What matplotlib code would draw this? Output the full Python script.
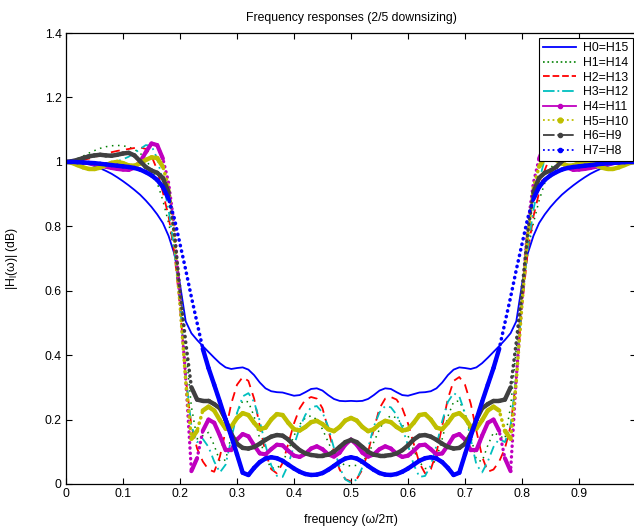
import numpy as np
import matplotlib
matplotlib.use("Agg")
import matplotlib.pyplot as plt
from matplotlib.lines import Line2D
from matplotlib.collections import LineCollection

plt.rcParams['font.family'] = ['Liberation Sans', 'DejaVu Sans']
plt.rcParams['mathtext.fontset'] = 'custom'
plt.rcParams['mathtext.rm'] = 'Liberation Sans'
plt.rcParams['mathtext.it'] = 'Liberation Sans:italic'

# normalised frequency grid (omega / 2pi)
freq = np.linspace(0.0, 1.0, 101)

h0 = [1.000, 1.000, 0.999, 0.997, 0.993, 0.987, 0.980, 0.972, 0.963, 0.952,
      0.940, 0.927, 0.913, 0.898, 0.880, 0.860, 0.837, 0.810, 0.770, 0.715,
      0.620, 0.505, 0.468, 0.447, 0.428, 0.410, 0.392, 0.375, 0.362, 0.357,
      0.360, 0.362, 0.355, 0.338, 0.315, 0.297, 0.288, 0.285, 0.284, 0.279,
      0.274, 0.276, 0.285, 0.295, 0.297, 0.290, 0.276, 0.264, 0.258, 0.257,
      0.258,
      0.257, 0.258, 0.264, 0.276, 0.290, 0.297, 0.295, 0.285, 0.276, 0.274,
      0.279, 0.284, 0.285, 0.288, 0.297, 0.315, 0.338, 0.355, 0.362, 0.360,
      0.357, 0.362, 0.375, 0.392, 0.410, 0.428, 0.447, 0.468, 0.505, 0.620,
      0.715, 0.770, 0.810, 0.837, 0.860, 0.880, 0.898, 0.913, 0.927, 0.940,
      0.952, 0.963, 0.972, 0.980, 0.987, 0.993, 0.997, 0.999, 1.000, 1.000]

h1 = [1.000, 1.004, 1.010, 1.018, 1.027, 1.035, 1.042, 1.047, 1.050, 1.051,
      1.050, 1.046, 1.039, 1.027, 1.008, 0.978, 0.935, 0.880, 0.810, 0.725,
      0.600, 0.420, 0.240, 0.140, 0.150, 0.160, 0.120, 0.070, 0.075, 0.150,
      0.220, 0.258, 0.255, 0.210, 0.140, 0.080, 0.050, 0.048, 0.068, 0.105,
      0.150, 0.185, 0.205, 0.212, 0.200, 0.170, 0.130, 0.092, 0.068, 0.058,
      0.056,
      0.058, 0.068, 0.092, 0.130, 0.170, 0.200, 0.212, 0.205, 0.185, 0.150,
      0.105, 0.068, 0.048, 0.050, 0.080, 0.140, 0.210, 0.255, 0.258, 0.220,
      0.150, 0.075, 0.070, 0.120, 0.160, 0.150, 0.140, 0.240, 0.420, 0.600,
      0.725, 0.810, 0.880, 0.935, 0.978, 1.008, 1.027, 1.039, 1.046, 1.050,
      1.051, 1.050, 1.047, 1.042, 1.035, 1.027, 1.018, 1.010, 1.004, 1.000]

h2 = [1.000, 1.001, 1.003, 1.006, 1.010, 1.015, 1.020, 1.025, 1.030, 1.034,
      1.037, 1.040, 1.043, 1.045, 1.040, 1.018, 0.975, 0.905, 0.830, 0.720,
      0.550, 0.330, 0.180, 0.110, 0.070, 0.045, 0.038, 0.085, 0.165, 0.250,
      0.308, 0.332, 0.320, 0.265, 0.180, 0.098, 0.046, 0.033, 0.065, 0.125,
      0.188, 0.235, 0.262, 0.270, 0.265, 0.235, 0.170, 0.100, 0.045, 0.015,
      0.008,
      0.015, 0.045, 0.100, 0.170, 0.235, 0.265, 0.270, 0.262, 0.235, 0.188,
      0.125, 0.065, 0.033, 0.046, 0.098, 0.180, 0.265, 0.320, 0.332, 0.308,
      0.250, 0.165, 0.085, 0.038, 0.045, 0.070, 0.110, 0.180, 0.330, 0.550,
      0.720, 0.830, 0.905, 0.975, 1.018, 1.040, 1.045, 1.043, 1.040, 1.037,
      1.034, 1.030, 1.025, 1.020, 1.015, 1.010, 1.006, 1.003, 1.001, 1.000]

h3 = [1.000, 1.000, 0.999, 0.998, 0.997, 0.996, 0.996, 0.996, 0.998, 1.002,
      1.008, 1.016, 1.027, 1.040, 1.052, 1.050, 1.010, 0.940, 0.850, 0.730,
      0.560, 0.340, 0.180, 0.130, 0.140, 0.115, 0.070, 0.036, 0.060, 0.140,
      0.220, 0.272, 0.282, 0.255, 0.195, 0.120, 0.058, 0.025, 0.022, 0.060,
      0.120, 0.175, 0.215, 0.238, 0.242, 0.222, 0.178, 0.112, 0.052, 0.014,
      0.004,
      0.014, 0.052, 0.112, 0.178, 0.222, 0.242, 0.238, 0.215, 0.175, 0.120,
      0.060, 0.022, 0.025, 0.058, 0.120, 0.195, 0.255, 0.282, 0.272, 0.220,
      0.140, 0.060, 0.036, 0.070, 0.115, 0.140, 0.130, 0.180, 0.340, 0.560,
      0.730, 0.850, 0.940, 1.010, 1.050, 1.052, 1.040, 1.027, 1.016, 1.008,
      1.002, 0.998, 0.996, 0.996, 0.996, 0.997, 0.998, 0.999, 1.000, 1.000]

h4 = [1.000, 1.000, 0.999, 0.998, 0.996, 0.993, 0.989, 0.985, 0.981, 0.978,
      0.976, 0.975, 0.982, 1.000, 1.030, 1.057, 1.052, 1.010, 0.935, 0.800,
      0.570, 0.330, 0.040, 0.080, 0.165, 0.200, 0.190, 0.150, 0.105, 0.105,
      0.138, 0.155, 0.148, 0.120, 0.095, 0.092, 0.108, 0.122, 0.120, 0.103,
      0.088, 0.084, 0.094, 0.110, 0.117, 0.108, 0.092, 0.085, 0.097, 0.122,
      0.138,
      0.122, 0.097, 0.085, 0.092, 0.108, 0.117, 0.110, 0.094, 0.084, 0.088,
      0.103, 0.120, 0.122, 0.108, 0.092, 0.095, 0.120, 0.148, 0.155, 0.138,
      0.105, 0.105, 0.150, 0.190, 0.200, 0.165, 0.080, 0.040, 0.330, 0.570,
      0.800, 0.935, 1.010, 1.052, 1.057, 1.030, 1.000, 0.982, 0.975, 0.976,
      0.978, 0.981, 0.985, 0.989, 0.993, 0.996, 0.998, 0.999, 1.000, 1.000]

h5 = [1.000, 0.997, 0.990, 0.983, 0.978, 0.978, 0.982, 0.990, 0.997, 1.000,
      0.996, 0.989, 0.988, 0.995, 1.006, 1.014, 1.012, 0.985, 0.920, 0.770,
      0.560, 0.320, 0.140, 0.165, 0.228, 0.240, 0.228, 0.198, 0.172, 0.178,
      0.205, 0.220, 0.214, 0.190, 0.170, 0.175, 0.200, 0.217, 0.214, 0.190,
      0.170, 0.166, 0.177, 0.192, 0.196, 0.186, 0.170, 0.164, 0.177, 0.197,
      0.205,
      0.197, 0.177, 0.164, 0.170, 0.186, 0.196, 0.192, 0.177, 0.166, 0.170,
      0.190, 0.214, 0.217, 0.200, 0.175, 0.170, 0.190, 0.214, 0.220, 0.205,
      0.178, 0.172, 0.198, 0.228, 0.240, 0.228, 0.165, 0.140, 0.320, 0.560,
      0.770, 0.920, 0.985, 1.012, 1.014, 1.006, 0.995, 0.988, 0.989, 0.996,
      1.000, 0.997, 0.990, 0.982, 0.978, 0.978, 0.983, 0.990, 0.997, 1.000]

h6 = [1.000, 1.002, 1.006, 1.012, 1.017, 1.020, 1.022, 1.020, 1.019, 1.022,
      1.026, 1.028, 1.020, 1.002, 0.984, 0.973, 0.966, 0.950, 0.905, 0.780,
      0.600, 0.440, 0.300, 0.262, 0.258, 0.258, 0.248, 0.235, 0.200, 0.155,
      0.125, 0.112, 0.110, 0.115, 0.125, 0.137, 0.147, 0.152, 0.150, 0.138,
      0.120, 0.105, 0.095, 0.090, 0.088, 0.088, 0.091, 0.100, 0.115, 0.130,
      0.137,
      0.130, 0.115, 0.100, 0.091, 0.088, 0.088, 0.090, 0.095, 0.105, 0.120,
      0.138, 0.150, 0.152, 0.147, 0.137, 0.125, 0.115, 0.110, 0.112, 0.125,
      0.155, 0.200, 0.235, 0.248, 0.258, 0.258, 0.262, 0.300, 0.440, 0.600,
      0.780, 0.905, 0.950, 0.966, 0.973, 0.984, 1.002, 1.020, 1.028, 1.026,
      1.022, 1.019, 1.020, 1.022, 1.020, 1.017, 1.012, 1.006, 1.002, 1.000]

h7 = [1.000, 1.000, 0.999, 0.998, 0.997, 0.996, 0.994, 0.992, 0.990, 0.988,
      0.986, 0.984, 0.981, 0.976, 0.968, 0.958, 0.944, 0.922, 0.885, 0.825,
      0.745, 0.665, 0.580, 0.500, 0.420, 0.360, 0.308, 0.255, 0.200, 0.148,
      0.092, 0.035, 0.028, 0.050, 0.068, 0.079, 0.083, 0.080, 0.072, 0.060,
      0.048, 0.038, 0.031, 0.028, 0.029, 0.034, 0.044, 0.056, 0.069, 0.079,
      0.083,
      0.079, 0.069, 0.056, 0.044, 0.034, 0.029, 0.028, 0.031, 0.038, 0.048,
      0.060, 0.072, 0.080, 0.083, 0.079, 0.068, 0.050, 0.028, 0.035, 0.092,
      0.148, 0.200, 0.255, 0.308, 0.360, 0.420, 0.500, 0.580, 0.665, 0.745,
      0.825, 0.885, 0.922, 0.944, 0.958, 0.968, 0.976, 0.981, 0.984, 0.986,
      0.988, 0.990, 0.992, 0.994, 0.996, 0.997, 0.998, 0.999, 1.000, 1.000]

responses = [h0, h1, h2, h3, h4, h5, h6, h7]
labels = ['H0=H15', 'H1=H14', 'H2=H13', 'H3=H12',
          'H4=H11', 'H5=H10', 'H6=H9', 'H7=H8']
x_ticks = [0, 0.1, 0.2, 0.3, 0.4, 0.5, 0.6, 0.7, 0.8, 0.9]
x_ticklabels = ['0', '0.1', '0.2', '0.3', '0.4', '0.5', '0.6', '0.7', '0.8', '0.9']
y_ticks = [0, 0.2, 0.4, 0.6, 0.8, 1.0, 1.2, 1.4]
y_ticklabels = ['0', '0.2', '0.4', '0.6', '0.8', '1', '1.2', '1.4']

BLUE = (0, 0, 1)
GREEN = (0, 0.5, 0)
RED = (1, 0, 0)
CYAN = (0, 0.75, 0.75)
MAGENTA = (0.75, 0, 0.75)
OLIVE = (0.75, 0.75, 0)
DARK = (0.25, 0.25, 0.25)

# thin line-only curves
thin_styles = [
    dict(color=BLUE, ls='-', lw=1.3),
    dict(color=GREEN, ls=(0, (1, 3)), lw=1.1),
    dict(color=RED, ls=(0, (5, 3.5)), lw=1.3),
    dict(color=CYAN, ls=(0, (5, 2.5, 1, 2.5)), lw=1.3),
]
# densely marked curves: solid where the dots merge, beaded on steep flanks
marked_colors = [MAGENTA, OLIVE, DARK, BLUE]
marked_widths = [3.0, 3.2, 3.2, 3.2]
STEEP = 0.06

legend_handles = [
    Line2D([], [], color=BLUE, ls='-', lw=1.3),
    Line2D([], [], color=GREEN, ls=':', lw=1.2),
    Line2D([], [], color=RED, ls='--', lw=1.3),
    Line2D([], [], color=CYAN, ls='-.', lw=1.3),
    Line2D([], [], color=MAGENTA, ls='-', lw=1.3, marker='.', ms=6),
    Line2D([], [], color=OLIVE, ls=':', lw=1.3, marker='.', ms=7),
    Line2D([], [], color=DARK, ls='-.', lw=1.3, marker='.', ms=6),
    Line2D([], [], color=BLUE, ls=':', lw=1.3, marker='.', ms=6),
]

W, H = 634, 527
fig = plt.figure(figsize=(W / 100, H / 100), dpi=100)
ax = fig.add_axes([66 / W, 1 - 484 / H, 570 / W, 451 / H])

for resp, style in zip(responses[:4], thin_styles):
    ax.plot(freq, resp, **style)

for resp, color, lw in zip(responses[4:], marked_colors, marked_widths):
    v = np.asarray(resp)
    ax.plot(freq, v, color=color, lw=lw * 0.8, ls=(0, (0.1, 1.5)),
            dash_capstyle='round')
    pts = np.column_stack([freq, v])
    segs = [pts[i:i + 2] for i in range(len(v) - 1)
            if abs(v[i + 1] - v[i]) <= STEEP]
    ax.add_collection(LineCollection(segs, colors=[color], linewidths=lw,
                                     capstyle='round', joinstyle='round'))

ax.set_xlim(0, 1)
ax.set_ylim(0, 1.4)
ax.set_xticks(x_ticks)
ax.set_xticklabels(x_ticklabels)
ax.set_yticks(y_ticks)
ax.set_yticklabels(y_ticklabels)
ax.tick_params(direction='in', top=True, right=True, length=4, width=0.8,
               labelsize=8.8, pad=3)
for sp in ax.spines.values():
    sp.set_linewidth(0.9)

ax.set_title('Frequency responses (2/5 downsizing)', fontsize=8.8, pad=9)
ax.set_xlabel('frequency (\u03c9/2\u03c0)', fontsize=8.8, labelpad=10)
ax.set_ylabel(r'$\mathrm{|H_l(\omega)|}$ (dB)', fontsize=8.8, labelpad=18)

leg = ax.legend(legend_handles, labels, loc='upper right',
                bbox_to_anchor=(633 / W, 1 - 38 / H),
                bbox_transform=fig.transFigure, borderaxespad=0,
                fontsize=8.8, fancybox=False, framealpha=1, edgecolor='k',
                borderpad=0.35, labelspacing=0.22, handlelength=2.7,
                handletextpad=0.6)
leg.get_frame().set_linewidth(0.8)

fig.savefig('out.png', dpi=100)
